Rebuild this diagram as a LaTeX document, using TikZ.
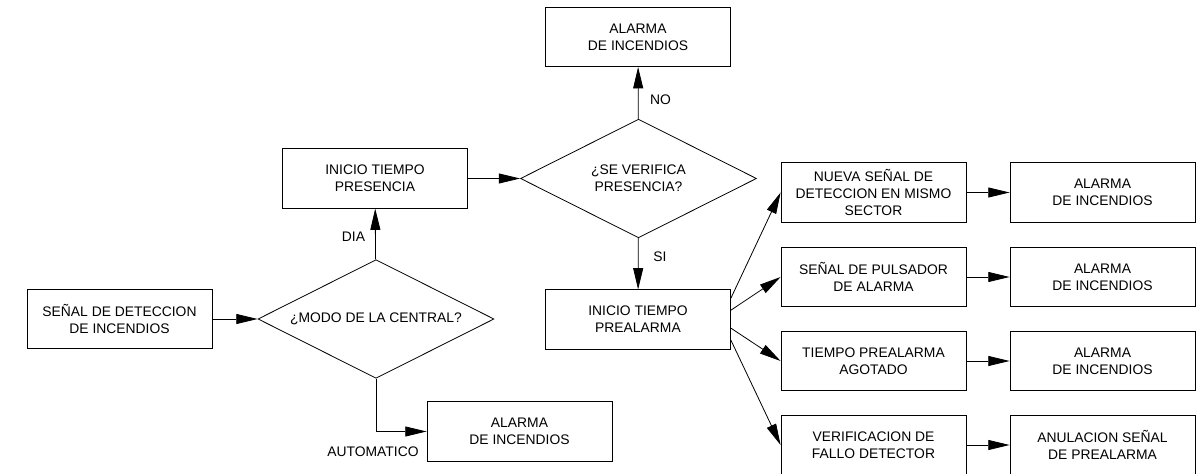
\documentclass[tikz,border=0pt]{standalone}
\usepackage{fontspec}
\setmainfont{Liberation Sans}
\usetikzlibrary{shapes.geometric,arrows.meta}

\tikzset{
  box/.style={draw, line width=0.6pt, minimum width=138.75pt, minimum height=44.5pt, align=center, inner sep=2pt},
  decision/.style={draw, diamond, aspect=2, line width=0.6pt, minimum width=177pt, minimum height=89pt, align=center, inner sep=0pt},
  flow/.style={line width=0.6pt, -{Triangle[length=16pt,width=7.5pt]}},
  lbl/.style={inner sep=0pt}
}

\begin{document}
\begin{tikzpicture}[x=0.75pt, y=-0.75pt, font=\fontsize{10.4}{12.7}\selectfont]
  \useasboundingbox (0,0) rectangle (1196,474);

  % left part
  \node[box] (senal) at (119.5,319) {SEÑAL DE DETECCION\\DE INCENDIOS};
  \node[decision] (modo) at (376,319) {¿MODO DE LA CENTRAL?};
  \node[box] (presencia) at (375,178.5) {INICIO TIEMPO\\PRESENCIA};
  \node[box] (alarmaAuto) at (519.5,431.5) {ALARMA\\DE INCENDIOS};

  % middle part
  \node[decision] (verifica) at (638.5,178.5) {¿SE VERIFICA\\PRESENCIA?};
  \node[box] (alarmaNo) at (638,37) {ALARMA\\DE INCENDIOS};
  \node[box] (prealarma) at (638,319.5) {INICIO TIEMPO\\PREALARMA};

  % right part
  \node[box] (nueva) at (873.5,192.5) {NUEVA SEÑAL DE\\DETECCION EN MISMO\\SECTOR};
  \node[box] (pulsador) at (873.5,277) {SEÑAL DE PULSADOR\\DE ALARMA};
  \node[box] (agotado) at (873.5,361) {TIEMPO PREALARMA\\AGOTADO};
  \node[box] (fallo) at (873.5,445) {VERIFICACION DE\\FALLO DETECTOR};
  \node[box] (alarmaA) at (1102.5,192.5) {ALARMA\\DE INCENDIOS};
  \node[box] (alarmaB) at (1102.5,277) {ALARMA\\DE INCENDIOS};
  \node[box] (alarmaC) at (1102.5,361) {ALARMA\\DE INCENDIOS};
  \node[box] (anulacion) at (1102.5,445) {ANULACION SEÑAL\\DE PREALARMA};

  % labels
  \node[lbl] (dia) at (353.5,237) {DIA};
  \node[lbl] (auto) at (373,452) {AUTOMATICO};
  \node[lbl] (no) at (660.5,100) {NO};
  \node[lbl] (si) at (660,257) {SI};

  % connectors
  \draw[flow] (senal) -- (modo);
  \draw[flow] (modo) -- (presencia);
  \draw[flow] (modo.south) |- (alarmaAuto.west);
  \draw[flow] (presencia) -- (verifica);
  \draw[flow] (verifica) -- (alarmaNo);
  \draw[flow] (verifica) -- (prealarma);
  \draw[flow] ([yshift=16pt]prealarma.east) -- (nueva.west);
  \draw[flow] ([yshift=7pt]prealarma.east) -- (pulsador.west);
  \draw[flow] ([yshift=-6.5pt]prealarma.east) -- (agotado.west);
  \draw[flow] ([yshift=-15.5pt]prealarma.east) -- (fallo.west);
  \draw[flow] (nueva) -- (alarmaA);
  \draw[flow] (pulsador) -- (alarmaB);
  \draw[flow] (agotado) -- (alarmaC);
  \draw[flow] (fallo) -- (anulacion);
\end{tikzpicture}
\end{document}
